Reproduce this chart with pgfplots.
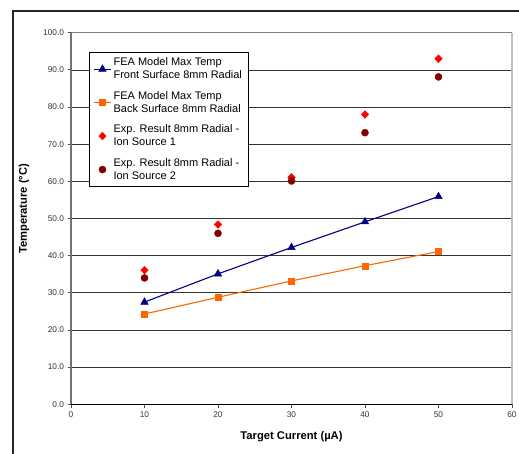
\documentclass[border=0pt]{standalone}
\usepackage{fontspec}
\setmainfont{Liberation Sans}
\usepackage{pgfplots}
\pgfplotsset{compat=1.18}
\definecolor{fronblue}{HTML}{000080}
\definecolor{backorange}{HTML}{FF6600}
\definecolor{expred}{HTML}{FF0000}
\definecolor{expdark}{HTML}{800000}
\begin{document}
\begin{tikzpicture}
\useasboundingbox (0pt,0pt) rectangle (519pt,454pt);
\draw[line width=1.3pt, black!85] (13pt,0pt) -- (13pt,443pt) -- (519pt,443pt);
\begin{axis}[
  at={(71pt,49.7pt)}, anchor=south west,
  scale only axis, width=441pt, height=371.6pt,
  xmin=0, xmax=60, ymin=0, ymax=100,
  xtick={0,10,...,60}, ytick={0,10,...,100},
  tick pos=left, tick align=outside, major tick length=3.5pt,
  tick style={black!70, line width=0.8pt},
  axis line style={draw=none},
  ymajorgrids, grid style={black!80, line width=0.7pt},
  /pgf/number format/assume math mode=true,
  yticklabel style={/pgf/number format/.cd, fixed, fixed zerofill, precision=1},
  ticklabel style={font=\fontsize{8.3}{10}\selectfont, text=black!80},
  xlabel={\textbf{Target Current (µA)}},
  ylabel={\textbf{Temperature (°C)}},
  label style={font=\fontsize{11.2}{13}\selectfont},
  xlabel style={at={(axis description cs:0.5,-0.088)}, anchor=center},
  ylabel style={at={(axis description cs:-0.1066,0.526)}, anchor=center},
  legend style={at={(axis description cs:0.0408,0.948)}, anchor=north west,
    draw=black, line width=0.8pt, fill=white,
    font=\fontsize{11}{13}\selectfont, cells={align=left, anchor=west},
    row sep=7pt, inner xsep=4pt, inner ysep=3.5pt},
  legend cell align=left,
  legend image post style={line width=1.1pt},
  clip=false,
]
\addplot[color=fronblue, line width=1.1pt, mark=triangle*, mark size=4.3pt, mark options={line width=0.5pt}]
  coordinates {(10,27.5) (20,35.1) (30,42.2) (40,49.1) (50,55.9)};
\addplot[color=backorange, line width=1.1pt, mark=square*, mark size=3pt, mark options={line width=0.3pt}]
  coordinates {(10,24.3) (20,28.8) (30,33.2) (40,37.3) (50,41.1)};
\addplot[only marks, color=expred, mark=diamond*, mark size=3.9pt, mark options={line width=0.3pt, xscale=1.3}]
  coordinates {(10,36.1) (20,48.4) (30,61.1) (40,78.0) (50,93.0)};
\addplot[only marks, color=expdark, mark=*, mark size=3.6pt, mark options={line width=0.3pt}]
  coordinates {(10,34.0) (20,46.0) (30,60.1) (40,73.1) (50,88.1)};
\legend{{FEA Model Max Temp\\Front Surface 8mm Radial},
        {FEA Model Max Temp\\Back Surface 8mm Radial},
        {Exp. Result 8mm Radial -\\Ion Source 1},
        {Exp. Result 8mm Radial -\\Ion Source 2}}
\draw[black!55, line width=1.6pt] (rel axis cs:0,0) -- (rel axis cs:0,1);
\draw[black, line width=0.9pt] (rel axis cs:0,0) -- (rel axis cs:1,0);
\draw[black!50, line width=0.9pt] (rel axis cs:0,1) -- (rel axis cs:1,1);
\draw[black!25, line width=1.2pt] (rel axis cs:1,0) -- (rel axis cs:1,1);
\end{axis}
\end{tikzpicture}
\end{document}
